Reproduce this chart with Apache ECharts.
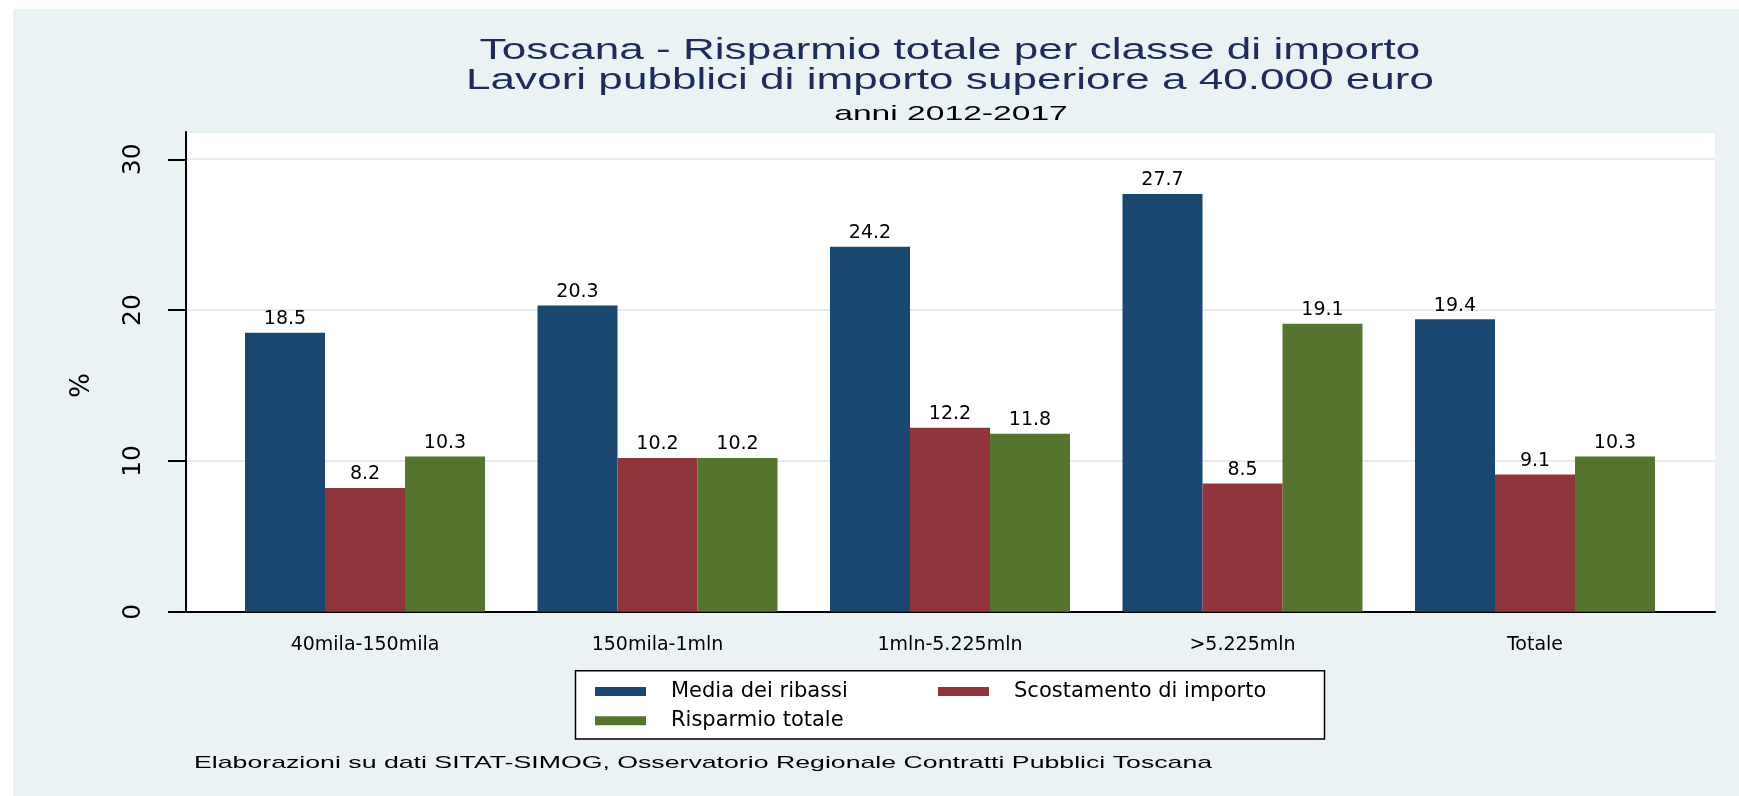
<!DOCTYPE html>
<html>
  <head>
    <title>risparmio_toscana.html</title>
    <meta http-equiv="content-type" content="text/html; charset=UTF-8">
    <script src="https://cdn.jsdelivr.net/npm/echarts@6/dist/echarts.min.js"></script>
    <style type="text/css">
      body{
        margin:0;
        background-color:#ffffff;
      }
      #grafico{
        position:absolute;
        left:13px;
        top:9px;
        width:1726px;
        height:787px;
      }
    </style>
  </head>
  <body>
    <div id="grafico"></div>
    <script type="text/javascript">
      // dati: classi di importo e le tre serie (%)
      var classi = ['40mila-150mila', '150mila-1mln', '1mln-5.225mln', '>5.225mln', 'Totale'];
      var mediaRibassi = [18.5, 20.3, 24.2, 27.7, 19.4];
      var scostamento = [8.2, 10.2, 12.2, 8.5, 9.1];
      var risparmio = [10.3, 10.2, 11.8, 19.1, 10.3];
      var tickY = [0, 10, 20, 30];
      var nomi = ['Media dei ribassi', 'Scostamento di importo', 'Risparmio totale'];
      var colori = ['#1a476f', '#90353b', '#55752f'];

      var font = 'DejaVu Sans';
      var fontTitolo = 'Liberation Sans';

      function serie(nome, dati, colore) {
        return {
          name: nome,
          type: 'bar',
          xAxisIndex: 1,
          yAxisIndex: 1,
          data: dati,
          barWidth: 80,
          barGap: '0%',
          itemStyle: { color: colore },
          label: {
            show: true,
            position: 'top',
            distance: 4,
            color: '#000',
            fontFamily: font,
            fontSize: 19,
            formatter: function (p) { return p.value.toFixed(1); }
          }
        };
      }

      var myChart = echarts.init(document.getElementById('grafico'));
      var option = {
        backgroundColor: '#eaf2f3',
        animation: false,
        graphic: [
          // titoli (testo allargato come nell'originale)
          { type: 'text', x: 937, y: 42, scaleX: 1.52, style: { text: 'Toscana - Risparmio totale per classe di importo', fontFamily: fontTitolo, fontSize: 29, fill: '#1d2c58', align: 'center', verticalAlign: 'middle' } },
          { type: 'text', x: 937, y: 72, scaleX: 1.52, style: { text: 'Lavori pubblici di importo superiore a 40.000 euro', fontFamily: fontTitolo, fontSize: 29, fill: '#1d2c58', align: 'center', verticalAlign: 'middle' } },
          { type: 'text', x: 938, y: 105, scaleX: 1.6, style: { text: 'anni 2012-2017', fontFamily: fontTitolo, fontSize: 21, fill: '#000', align: 'center', verticalAlign: 'middle' } },
          { type: 'text', x: 181, y: 754, scaleX: 1.57, style: { text: 'Elaborazioni su dati SITAT-SIMOG, Osservatorio Regionale Contratti Pubblici Toscana', fontFamily: fontTitolo, fontSize: 17, fill: '#000', align: 'left', verticalAlign: 'middle' } },
          // riquadro della legenda
          { type: 'rect', z: 0, shape: { x: 562.5, y: 661.7, width: 749, height: 68.3 }, style: { fill: '#fff', stroke: '#000', lineWidth: 1.5 } }
        ],
        legend: [
          {
            data: [nomi[0], nomi[2]],
            orient: 'vertical',
            left: 582,
            top: 672,
            padding: 0,
            itemGap: 8.3,
            itemWidth: 51,
            itemHeight: 9,
            icon: 'rect',
            textStyle: { fontFamily: font, fontSize: 21, color: '#000', lineHeight: 20, padding: [0, 0, 0, 20] }
          },
          {
            data: [nomi[1]],
            orient: 'vertical',
            left: 925,
            top: 672,
            padding: 0,
            itemWidth: 51,
            itemHeight: 9,
            icon: 'rect',
            textStyle: { fontFamily: font, fontSize: 21, color: '#000', lineHeight: 20, padding: [0, 0, 0, 20] }
          }
        ],
        grid: [
          // cornice bianca dell'area del grafico
          { left: 173, right: 24, top: 123, bottom: 184.3, show: true, backgroundColor: '#fff', borderWidth: 0, outerBoundsMode: 'none' },
          // area delle barre
          { left: 205.75, right: 57.75, top: 150.3, bottom: 184.3, outerBoundsMode: 'none' }
        ],
        xAxis: [
          {
            gridIndex: 0, type: 'category', data: classi,
            axisLine: { lineStyle: { color: '#000', width: 2 } },
            axisTick: { show: false },
            axisLabel: { show: false }
          },
          {
            gridIndex: 1, type: 'category', data: classi,
            axisLine: { show: false },
            axisTick: { show: false },
            axisLabel: { interval: 0, margin: 24, color: '#000', fontFamily: font, fontSize: 19 }
          }
        ],
        yAxis: [
          {
            gridIndex: 0, type: 'value', min: 0, max: 31.8, interval: 10,
            axisLine: { show: true, lineStyle: { color: '#000', width: 2 } },
            axisTick: { show: false },
            axisLabel: { show: false },
            splitLine: { show: true, lineStyle: { color: '#e4edf0', width: 2 } }
          },
          {
            gridIndex: 1, type: 'value',
            min: tickY[0], max: tickY[tickY.length - 1], interval: tickY[1] - tickY[0],
            offset: 32.75,
            name: '%', nameLocation: 'middle', nameGap: 91, nameMoveOverlap: false,
            nameTextStyle: { fontFamily: font, fontSize: 26, color: '#000' },
            axisLine: { show: false },
            axisTick: { show: true, length: 18, lineStyle: { color: '#000', width: 2 } },
            axisLabel: { rotate: 90, margin: 40, color: '#000', fontFamily: font, fontSize: 25 },
            splitLine: { show: false }
          }
        ],
        series: [
          serie(nomi[0], mediaRibassi, colori[0]),
          serie(nomi[1], scostamento, colori[1]),
          serie(nomi[2], risparmio, colori[2])
        ]
      };
      myChart.setOption(option);
    </script>
  </body>
</html>
